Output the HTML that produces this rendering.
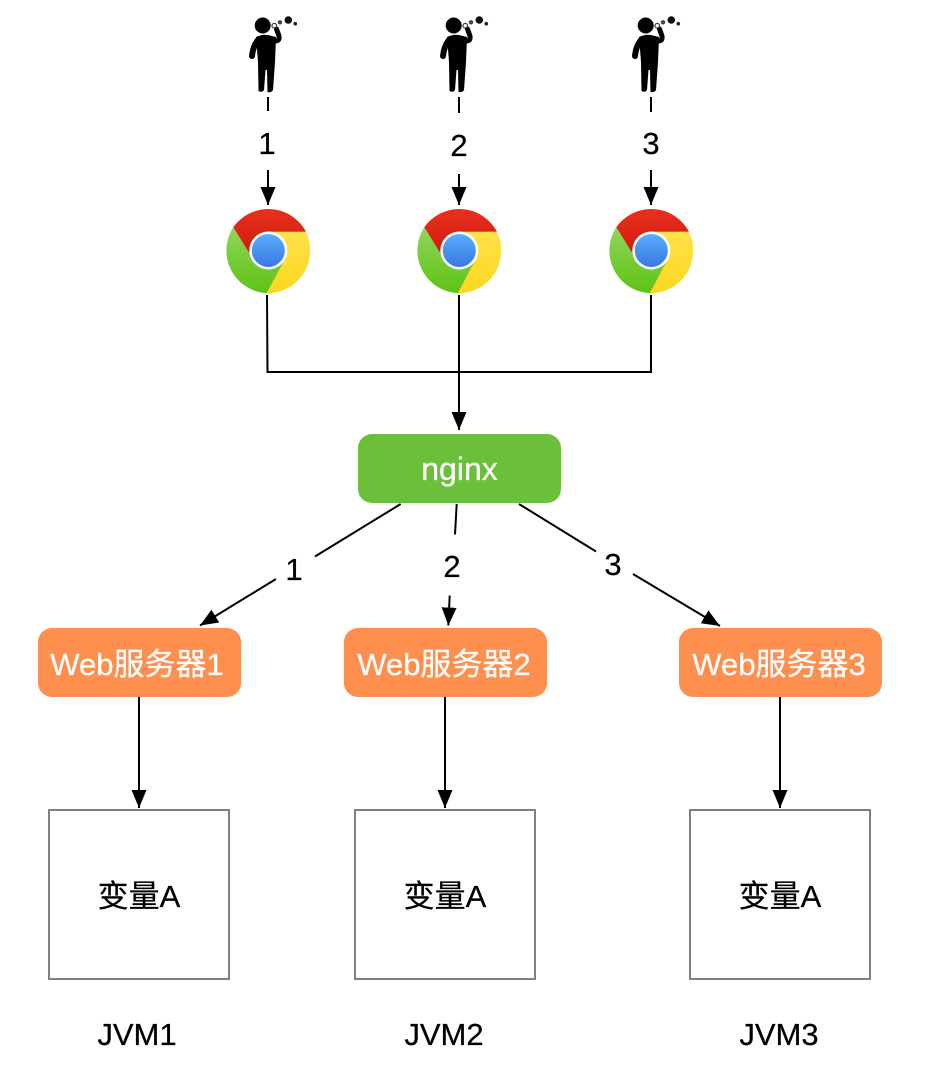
<!DOCTYPE html>
<html>
<head>
<meta charset="utf-8">
<style>
html,body{margin:0;padding:0;background:#fff;width:928px;height:1074px;overflow:hidden}
svg{display:block}
text{font-family:"Liberation Sans","Noto Sans CJK SC",sans-serif;font-size:31px;text-anchor:middle;fill:#000;stroke:#000;stroke-width:.25px}
text.w{fill:#fff;stroke:#fff}
.l{fill:none;stroke:#000;stroke-width:2}
</style>
</head>
<body>
<svg width="928" height="1074" viewBox="0 0 928 1074" xmlns="http://www.w3.org/2000/svg">
<defs>
<marker id="a" markerUnits="userSpaceOnUse" markerWidth="20" markerHeight="18" refX="18" refY="9" orient="auto">
<path d="M0 1.500L18 9L0 16.500Z" fill="#000"/>
</marker>
<linearGradient id="r" x1="0" y1="0" x2="0" y2="1"><stop offset="0" stop-color="#e8301c"/><stop offset="1" stop-color="#cf1a0c"/></linearGradient>
<linearGradient id="g" x1="0" y1="0" x2="0" y2="1"><stop offset="0" stop-color="#8fd65a"/><stop offset="1" stop-color="#5ec314"/></linearGradient>
<linearGradient id="y" x1="0" y1="0" x2="0" y2="1"><stop offset="0" stop-color="#ffe14a"/><stop offset="1" stop-color="#fbd81e"/></linearGradient>
<linearGradient id="b" x1="0" y1="0" x2="0" y2="1"><stop offset="0" stop-color="#5aaeff"/><stop offset="1" stop-color="#3a78e0"/></linearGradient>
<g id="person">
<circle cx="262.7" cy="25.500" r="8" fill="#000"/>
<path d="M256 37Q264 33 272 36L276 37L275 62L273 90Q271 93 267.500 92L267 70H265.500L264 90Q262 93 258.500 91L258 62Z" fill="#000"/>
<path d="M258 40Q253 46 252 56" fill="none" stroke="#000" stroke-width="6" stroke-linecap="round"/>
<path d="M272 40Q280 43 279 36L276.500 29" fill="none" stroke="#000" stroke-width="5" stroke-linecap="round"/>
<circle cx="274.300" cy="25.700" r="2.300" fill="none" stroke="#444" stroke-width="1.300"/>
<circle cx="280" cy="22.300" r="2.200" fill="#444"/>
<circle cx="288.300" cy="20" r="3.800" fill="#111"/>
<circle cx="295.300" cy="23.700" r="1.800" fill="#222"/>
</g>
<g id="chrome">
<path d="M268 232H306A42.700 42.700 0 0 1 266.700 293.200L283 263Z" fill="url(#y)"/>
<path d="M233.300 227.300A42.700 42.700 0 0 0 266.700 293.200L283 263L250 254.300Z" fill="url(#g)"/>
<path d="M233.300 227.300A42.700 42.700 0 0 1 306 231.700H268L250 254.300Z" fill="url(#r)"/>
<circle cx="268.300" cy="250.500" r="19" fill="#fff"/>
<circle cx="268.300" cy="250.500" r="16.500" fill="url(#b)"/>
</g>
</defs>
<rect width="928" height="1074" fill="#fff"/>

<use href="#person"/>
<use href="#person" x="191"/>
<use href="#person" x="383"/>

<path class="l" d="M268 97V111"/>
<path class="l" d="M459 97V113"/>
<path class="l" d="M651 97V112"/>
<text x="267" y="154">1</text>
<text x="459" y="156">2</text>
<text x="651" y="154">3</text>
<path class="l" d="M268 170V205" marker-end="url(#a)"/>
<path class="l" d="M459 174V205" marker-end="url(#a)"/>
<path class="l" d="M651 170V205" marker-end="url(#a)"/>

<use href="#chrome"/>
<use href="#chrome" x="191"/>
<use href="#chrome" x="383"/>

<path class="l" d="M267 295L267.500 372H651V295"/>
<path class="l" d="M459 295V430" marker-end="url(#a)"/>

<rect x="358" y="434" width="203" height="69" rx="14" fill="#6cbf3a"/>
<text class="w" x="459.500" y="480" style="font-size:32px">nginx</text>

<path class="l" d="M400.700 504L315 556.500"/>
<path class="l" d="M276 579L200 625.500" marker-end="url(#a)"/>
<text x="294" y="580">1</text>
<path class="l" d="M456.700 504L455 534.500"/>
<path class="l" d="M449.700 595.500L448.300 625.500" marker-end="url(#a)"/>
<text x="452" y="577">2</text>
<path class="l" d="M519 504L596 551.500"/>
<path class="l" d="M633 574L720 626" marker-end="url(#a)"/>
<text x="613" y="575">3</text>

<rect x="38" y="628" width="203" height="69" rx="14" fill="#ff8f4f"/>
<rect x="344" y="628" width="203" height="69" rx="14" fill="#ff8f4f"/>
<rect x="679" y="628" width="203" height="69" rx="14" fill="#ff8f4f"/>
<text class="w" x="137" y="675">Web服务器1</text>
<text class="w" x="444" y="675">Web服务器2</text>
<text class="w" x="779" y="675">Web服务器3</text>

<path class="l" d="M139 697V808" marker-end="url(#a)"/>
<path class="l" d="M445 697V808" marker-end="url(#a)"/>
<path class="l" d="M780 697V808" marker-end="url(#a)"/>

<rect x="49" y="810" width="180" height="169" fill="#fff" stroke="#808080" stroke-width="2"/>
<rect x="355" y="810" width="180" height="169" fill="#fff" stroke="#808080" stroke-width="2"/>
<rect x="690" y="810" width="180" height="169" fill="#fff" stroke="#808080" stroke-width="2"/>
<text x="139" y="907">变量A</text>
<text x="445" y="907">变量A</text>
<text x="780" y="907">变量A</text>
<text x="137" y="1045">JVM1</text>
<text x="444" y="1045">JVM2</text>
<text x="779" y="1045">JVM3</text>
</svg>
</body>
</html>
